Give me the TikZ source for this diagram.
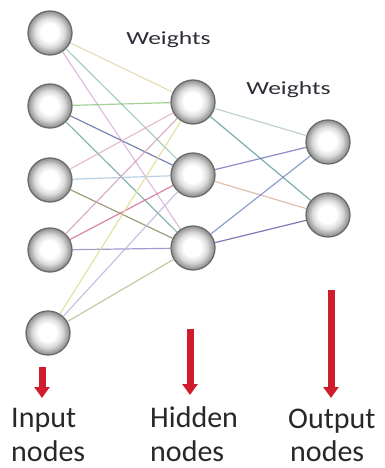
\documentclass[tikz,border=0pt]{standalone}
\usepackage{fontspec}
\setmainfont{Carlito}
\usetikzlibrary{arrows.meta}

% grey glass-ball look for the neurons
\pgfdeclareradialshading{sphere}{\pgfpoint{-1bp}{1bp}}{%
  color(0bp)=(white); color(10bp)=(white); color(17bp)=(black!14);
  color(22bp)=(black!34); color(25bp)=(black!45); color(50bp)=(black!45)}

\definecolor{arrowred}{RGB}{208,28,44}
\definecolor{txt}{RGB}{40,40,40}
\definecolor{wtxt}{RGB}{45,45,55}
% connection colours
\definecolor{wA}{RGB}{225,215,175}
\definecolor{wB}{RGB}{150,200,185}
\definecolor{wC}{RGB}{215,180,215}
\definecolor{wD}{RGB}{150,200,130}
\definecolor{wE}{RGB}{100,110,160}
\definecolor{wF}{RGB}{110,170,160}
\definecolor{wG}{RGB}{225,180,200}
\definecolor{wH}{RGB}{170,200,225}
\definecolor{wI}{RGB}{140,140,100}
\definecolor{wJ}{RGB}{215,160,190}
\definecolor{wK}{RGB}{210,110,150}
\definecolor{wL}{RGB}{140,140,200}
\definecolor{wM}{RGB}{225,220,150}
\definecolor{wN}{RGB}{190,185,225}
\definecolor{wO}{RGB}{190,190,150}
\definecolor{wP}{RGB}{180,205,190}
\definecolor{wQ}{RGB}{100,160,160}
\definecolor{wR}{RGB}{120,120,190}
\definecolor{wS}{RGB}{220,180,160}
\definecolor{wT}{RGB}{120,140,200}
\definecolor{wU}{RGB}{100,100,170}

\begin{document}
\begin{tikzpicture}[x=1pt,y=-1pt,
  neuron/.style={circle, minimum size=44pt, inner sep=0pt, shading=sphere,
    draw=black!58, line width=1.3pt},
  weight/.style={line width=1.2pt, opacity=0.85},
  wlabel/.style={inner sep=0pt, anchor=base, text=wtxt,
    font=\fontsize{18.5}{20}\selectfont},
  layerlabel/.style={inner sep=0pt, anchor=base west, text=txt,
    font=\fontsize{30}{35}\selectfont},
  pointer/.style={draw=arrowred, line width=7pt,
    -{Triangle[width=15pt,length=11pt]}, arrowred}]
\useasboundingbox (0,0) rectangle (384,468);

% input layer
\node[neuron] (i1) at (50,33) {};
\node[neuron] (i2) at (50,106) {};
\node[neuron] (i3) at (50,180) {};
\node[neuron] (i4) at (50,250) {};
\node[neuron] (i5) at (48,333) {};
% hidden layer
\node[neuron] (h1) at (193,102) {};
\node[neuron] (h2) at (193,175) {};
\node[neuron] (h3) at (193,248) {};
% output layer
\node[neuron] (o1) at (328,142) {};
\node[neuron] (o2) at (328,215) {};

% input -> hidden weights
\draw[weight, wA] (i1) -- (h1);
\draw[weight, wB] (i1) -- (h2);
\draw[weight, wC] (i1) -- (h3);
\draw[weight, wD] (i2) -- (h1);
\draw[weight, wE] (i2) -- (h2);
\draw[weight, wF] (i2) -- (h3);
\draw[weight, wG] (i3) -- (h1);
\draw[weight, wH] (i3) -- (h2);
\draw[weight, wI] (i3) -- (h3);
\draw[weight, wJ] (i4) -- (h1);
\draw[weight, wK] (i4) -- (h2);
\draw[weight, wL] (i4) -- (h3);
\draw[weight, wM] (i5) -- (h1);
\draw[weight, wN] (i5) -- (h2);
\draw[weight, wO] (i5) -- (h3);
% hidden -> output weights
\draw[weight, wP] (h1) -- (o1);
\draw[weight, wQ] (h1) -- (o2);
\draw[weight, wR] (h2) -- (o1);
\draw[weight, wS] (h2) -- (o2);
\draw[weight, wT] (h3) -- (o1);
\draw[weight, wU] (h3) -- (o2);

% weight captions
\node[wlabel] (w1) at (168.5,45) {\scalebox{1.38}[1]{Weights}};
\node[wlabel] (w2) at (288.5,95) {\scalebox{1.38}[1]{Weights}};

% layer captions, two lines each
\node[layerlabel] (lin1)  at (11,427)  {Input};
\node[layerlabel] (lin2)  at (11,461)  {nodes};
\node[layerlabel] (lhid1) at (150,427) {Hidden};
\node[layerlabel] (lhid2) at (150,461) {nodes};
\node[layerlabel] (lout1) at (288,428) {Output};
\node[layerlabel] (lout2) at (290,461) {nodes};

% red pointers
\coordinate (a1s) at (42,367);  \coordinate (a1e) at (42,398);
\coordinate (a2s) at (190,329); \coordinate (a2e) at (190,395);
\coordinate (a3s) at (331,290); \coordinate (a3e) at (331,398);
\draw[pointer] (a1s) -- (a1e);
\draw[pointer] (a2s) -- (a2e);
\draw[pointer] (a3s) -- (a3e);
\end{tikzpicture}
\end{document}
